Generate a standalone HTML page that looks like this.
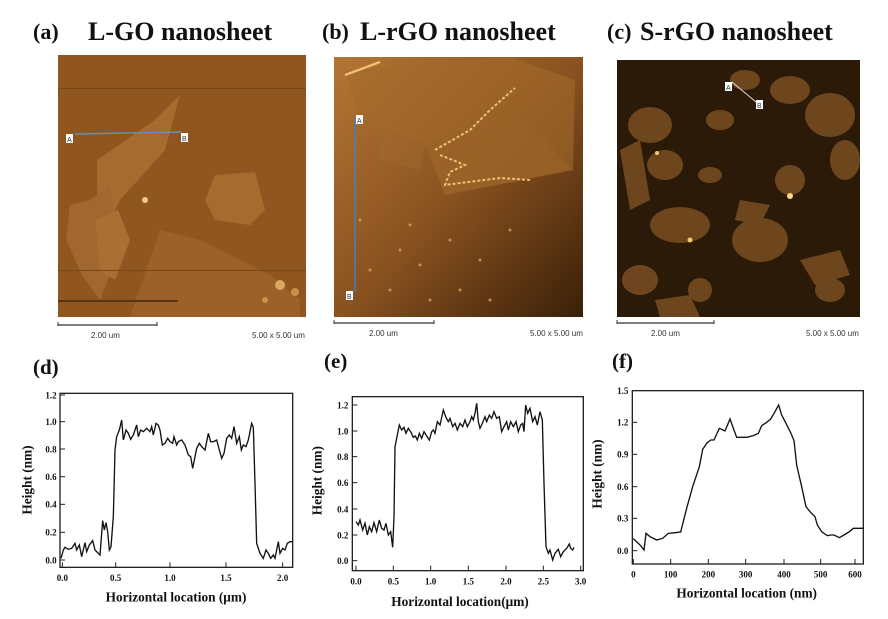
<!DOCTYPE html>
<html><head><meta charset="utf-8"><style>
html,body{margin:0;padding:0;background:#fff;}
svg{display:block;}
.t{font-family:"Liberation Serif",serif;font-weight:bold;fill:#111;}
.s{font-family:"Liberation Sans",sans-serif;fill:#333;}
</style></head><body>
<svg width="888" height="619" viewBox="0 0 888 619" xmlns="http://www.w3.org/2000/svg">
<defs>
<linearGradient id="gb" x1="0" y1="0" x2="1" y2="1">
<stop offset="0" stop-color="#b47634"/><stop offset="0.5" stop-color="#8a5220"/><stop offset="1" stop-color="#3a2008"/>
</linearGradient>
</defs>
<!-- Titles -->
<text class="t" x="33" y="39" font-size="22">(a)</text>
<text class="t" x="88" y="40" font-size="26">L-GO nanosheet</text>
<text class="t" x="322" y="39" font-size="22">(b)</text>
<text class="t" x="360" y="40" font-size="26">L-rGO nanosheet</text>
<text class="t" x="607" y="39" font-size="22">(c)</text>
<text class="t" x="640" y="40" font-size="26">S-rGO nanosheet</text>

<!-- Image a -->
<g>
<rect x="58" y="55" width="248" height="262" fill="#8f561f"/>
<polygon points="155,120 180,95 165,150 120,200 98,245 97,160" fill="#a56c30"/>
<polygon points="90,200 110,185 118,230 110,275 100,300 82,275 66,240 70,205" fill="#a06730"/>
<polygon points="215,175 255,172 265,210 250,225 215,220 205,200" fill="#a56c30"/>
<polygon points="160,230 200,240 270,275 300,300 300,317 130,317" fill="#9b6129"/>
<polygon points="95,220 118,210 130,240 115,280 100,270" fill="#a96f33"/>
<rect x="58" y="300" width="120" height="2" fill="#5a3410"/>
<rect x="58" y="88" width="248" height="1" fill="#7a4615"/>
<rect x="58" y="270" width="248" height="1" fill="#7a4615"/>
<circle cx="145" cy="200" r="3" fill="#f3d080"/>
<circle cx="280" cy="285" r="5" fill="#d9a85a"/>
<circle cx="295" cy="292" r="4" fill="#c99048"/>
<circle cx="265" cy="300" r="3" fill="#c99048"/>
<line x1="75" y1="134" x2="181" y2="132" stroke="#6a8fb5" stroke-width="1.5"/>
<rect x="66" y="134" width="7" height="9" fill="#fff"/><text class="s" x="67" y="142" font-size="7">A</text>
<rect x="181" y="133" width="7" height="9" fill="#fff"/><text class="s" x="182" y="141" font-size="7">B</text>
<line x1="58" y1="325" x2="157" y2="325" stroke="#333" stroke-width="1.2"/>
<line x1="58" y1="322" x2="58" y2="326" stroke="#333"/><line x1="157" y1="322" x2="157" y2="326" stroke="#333"/>
<text class="s" x="91" y="338" font-size="8">2.00 um</text>
<text class="s" x="252" y="338" font-size="8">5.00 x 5.00 um</text>
</g>

<!-- Image b -->
<g>
<rect x="334" y="57" width="249" height="260" fill="url(#gb)"/>
<polygon points="345,70 510,57 575,80 573,170 445,195 425,145 360,120" fill="#a46a2c" opacity="0.6"/>
<polygon points="425,145 515,110 573,170 445,195" fill="#9a6228" opacity="0.6"/>
<polygon points="380,130 425,145 420,170 380,160" fill="#a06a30" opacity="0.5"/>
<polyline points="345,75 380,62" stroke="#f0c070" stroke-width="2.5" fill="none"/>
<polyline points="435,150 470,130 490,110 515,88" stroke="#f0c070" stroke-width="2" fill="none" stroke-dasharray="3,2"/>
<polyline points="440,155 465,165 450,172 445,185 500,178 530,180" stroke="#f0c070" stroke-width="2" fill="none" stroke-dasharray="3,2"/>
<g fill="#d8a258" opacity="0.8">
<circle cx="400" cy="250" r="1.5"/><circle cx="420" cy="265" r="1.5"/><circle cx="450" cy="240" r="1.5"/><circle cx="480" cy="260" r="1.5"/><circle cx="390" cy="290" r="1.5"/><circle cx="460" cy="290" r="1.5"/><circle cx="510" cy="230" r="1.5"/><circle cx="430" cy="300" r="1.5"/><circle cx="370" cy="270" r="1.5"/><circle cx="490" cy="300" r="1.5"/><circle cx="360" cy="220" r="1.5"/><circle cx="410" cy="225" r="1.5"/>
</g>
<line x1="355" y1="118" x2="355" y2="292" stroke="#3d84c8" stroke-width="1.5"/>
<rect x="356" y="115" width="7" height="9" fill="#fff"/><text class="s" x="357" y="123" font-size="7">A</text>
<rect x="346" y="291" width="7" height="9" fill="#fff"/><text class="s" x="347" y="299" font-size="7">B</text>
<line x1="334" y1="323" x2="434" y2="323" stroke="#333" stroke-width="1.2"/>
<line x1="334" y1="320" x2="334" y2="324" stroke="#333"/><line x1="434" y1="320" x2="434" y2="324" stroke="#333"/>
<text class="s" x="369" y="336" font-size="8">2.00 um</text>
<text class="s" x="530" y="336" font-size="8">5.00 x 5.00 um</text>
</g>

<!-- Image c -->
<g>
<rect x="617" y="60" width="243" height="257" fill="#2c1a09"/>
<g fill="#7a4e22" opacity="0.85">
<ellipse cx="650" cy="125" rx="22" ry="18"/><ellipse cx="665" cy="165" rx="18" ry="15"/><ellipse cx="720" cy="120" rx="14" ry="10"/><ellipse cx="790" cy="90" rx="20" ry="14"/><ellipse cx="830" cy="115" rx="25" ry="22"/><ellipse cx="845" cy="160" rx="15" ry="20"/><ellipse cx="680" cy="225" rx="30" ry="18"/><ellipse cx="760" cy="240" rx="28" ry="22"/><ellipse cx="790" cy="180" rx="15" ry="15"/><ellipse cx="640" cy="280" rx="18" ry="15"/><ellipse cx="700" cy="290" rx="12" ry="12"/><ellipse cx="830" cy="290" rx="15" ry="12"/><ellipse cx="745" cy="80" rx="15" ry="10"/><ellipse cx="710" cy="175" rx="12" ry="8"/>
<polygon points="620,150 640,140 650,200 630,210"/><polygon points="740,200 770,205 760,225 735,220"/><polygon points="800,260 840,250 850,275 815,285"/><polygon points="655,300 690,295 700,317 660,317"/>
</g>
<circle cx="790" cy="196" r="3" fill="#f8d890"/><circle cx="690" cy="240" r="2.5" fill="#f0c870"/><circle cx="657" cy="153" r="2" fill="#f0c870"/>
<line x1="732" y1="82" x2="756" y2="102" stroke="#ddd" stroke-width="1"/>
<rect x="725" y="82" width="7" height="9" fill="#fff"/><text class="s" x="726" y="90" font-size="7">A</text>
<rect x="756" y="100" width="7" height="9" fill="#fff"/><text class="s" x="757" y="108" font-size="7">B</text>
<line x1="617" y1="323" x2="714" y2="323" stroke="#333" stroke-width="1.2"/>
<line x1="617" y1="320" x2="617" y2="324" stroke="#333"/><line x1="714" y1="320" x2="714" y2="324" stroke="#333"/>
<text class="s" x="651" y="336" font-size="8">2.00 um</text>
<text class="s" x="806" y="336" font-size="8">5.00 x 5.00 um</text>
</g>

<!-- Bottom titles -->
<text class="t" x="33" y="374" font-size="21">(d)</text>
<text class="t" x="324" y="368" font-size="21">(e)</text>
<text class="t" x="612" y="368" font-size="21">(f)</text>

<!-- Plot d -->
<g transform="translate(0,350) scale(0.33333)">
<rect x="180" y="130" width="698" height="522" fill="none" stroke="#222" stroke-width="4"/>
<g stroke="#222" stroke-width="3">
<line x1="180" y1="630" x2="195" y2="630"/><line x1="180" y1="547" x2="195" y2="547"/><line x1="180" y1="463" x2="195" y2="463"/><line x1="180" y1="380" x2="195" y2="380"/><line x1="180" y1="297" x2="195" y2="297"/><line x1="180" y1="215" x2="195" y2="215"/><line x1="180" y1="135" x2="195" y2="135"/>
<line x1="187" y1="652" x2="187" y2="637"/><line x1="347" y1="652" x2="347" y2="637"/><line x1="510" y1="652" x2="510" y2="637"/><line x1="678" y1="652" x2="678" y2="637"/><line x1="848" y1="652" x2="848" y2="637"/>
</g>
<g class="t" font-size="27" text-anchor="end">
<text x="170" y="640">0.0</text><text x="170" y="557">0.2</text><text x="170" y="473">0.4</text><text x="170" y="390">0.6</text><text x="170" y="307">0.8</text><text x="170" y="225">1.0</text><text x="170" y="145">1.2</text>
</g>
<g class="t" font-size="27" text-anchor="middle">
<text x="187" y="693">0.0</text><text x="347" y="693">0.5</text><text x="510" y="693">1.0</text><text x="678" y="693">1.5</text><text x="848" y="693">2.0</text>
</g>
<text class="t" x="528" y="755" font-size="40" text-anchor="middle">Horizontal location (μm)</text>
<text class="t" font-size="40" text-anchor="middle" transform="translate(95,390) rotate(-90)">Height (nm)</text>
<polyline fill="none" stroke="#111" stroke-width="4" points="183,625 190,600 195,592 205,598 215,595 225,580 230,600 238,585 245,620 255,578 260,605 268,585 278,572 285,600 300,615 308,512 313,540 318,518 323,545 328,600 333,590 340,500 345,300 350,260 358,240 365,210 370,270 378,240 385,250 392,268 400,255 410,225 415,260 422,240 430,245 440,235 450,245 455,230 460,255 468,220 475,225 480,240 487,285 495,280 503,265 510,275 518,280 522,260 530,285 535,275 545,270 555,285 560,300 565,315 572,320 578,355 585,320 590,295 598,280 605,290 615,300 625,250 632,275 640,275 650,270 658,300 665,325 672,310 680,265 688,255 695,265 702,230 710,280 718,260 724,300 730,285 738,290 745,270 755,220 760,232 765,400 770,580 780,610 790,625 798,600 805,610 812,625 820,615 825,625 835,575 840,610 848,595 855,600 862,580 870,575 878,575"/>
</g>

<!-- Plot e -->
<g transform="translate(300,350) scale(0.33333)">
<rect x="157" y="140" width="693" height="522" fill="none" stroke="#222" stroke-width="4"/>
<g stroke="#222" stroke-width="3">
<line x1="157" y1="632" x2="172" y2="632"/><line x1="157" y1="555" x2="172" y2="555"/><line x1="157" y1="477" x2="172" y2="477"/><line x1="157" y1="398" x2="172" y2="398"/><line x1="157" y1="320" x2="172" y2="320"/><line x1="157" y1="243" x2="172" y2="243"/><line x1="157" y1="165" x2="172" y2="165"/>
<line x1="168" y1="662" x2="168" y2="647"/><line x1="280" y1="662" x2="280" y2="647"/><line x1="392" y1="662" x2="392" y2="647"/><line x1="505" y1="662" x2="505" y2="647"/><line x1="618" y1="662" x2="618" y2="647"/><line x1="730" y1="662" x2="730" y2="647"/><line x1="842" y1="662" x2="842" y2="647"/>
</g>
<g class="t" font-size="27" text-anchor="end">
<text x="145" y="642">0.0</text><text x="145" y="565">0.2</text><text x="145" y="487">0.4</text><text x="145" y="408">0.6</text><text x="145" y="330">0.8</text><text x="145" y="253">1.0</text><text x="145" y="175">1.2</text>
</g>
<g class="t" font-size="27" text-anchor="middle">
<text x="168" y="703">0.0</text><text x="280" y="703">0.5</text><text x="392" y="703">1.0</text><text x="505" y="703">1.5</text><text x="618" y="703">2.0</text><text x="730" y="703">2.5</text><text x="842" y="703">3.0</text>
</g>
<text class="t" x="480" y="768" font-size="40" text-anchor="middle">Horizontal location(μm)</text>
<text class="t" font-size="40" text-anchor="middle" transform="translate(65,392) rotate(-90)">Height (nm)</text>
<polyline fill="none" stroke="#111" stroke-width="4" points="168,515 175,525 180,510 188,540 195,520 202,555 208,530 215,545 222,518 230,545 238,510 245,535 252,540 258,520 265,555 272,545 278,592 282,500 285,290 292,255 298,225 305,240 312,232 318,250 325,235 332,245 340,262 346,258 352,270 358,250 365,265 372,245 380,258 388,270 395,245 400,240 405,250 412,215 420,225 430,180 437,200 445,215 450,205 458,230 465,220 472,240 480,220 488,230 495,210 502,230 510,215 515,200 520,210 525,190 530,160 535,215 540,235 548,218 555,200 560,215 568,195 575,205 582,185 590,205 598,200 605,245 612,230 620,215 625,240 632,215 640,230 648,215 655,245 662,225 668,220 672,245 677,165 683,190 690,175 698,215 705,200 712,225 720,185 727,210 732,400 738,590 745,610 750,600 758,630 765,610 775,598 782,620 790,605 800,595 808,582 812,595 818,600 822,592"/>
</g>

<!-- Plot f -->
<g transform="translate(580,350) scale(0.33333)">
<rect x="157" y="122" width="693" height="520" fill="none" stroke="#222" stroke-width="4"/>
<g stroke="#222" stroke-width="3">
<line x1="157" y1="602" x2="172" y2="602"/><line x1="157" y1="505" x2="172" y2="505"/><line x1="157" y1="410" x2="172" y2="410"/><line x1="157" y1="313" x2="172" y2="313"/><line x1="157" y1="217" x2="172" y2="217"/>
<line x1="160" y1="642" x2="160" y2="627"/><line x1="272" y1="642" x2="272" y2="627"/><line x1="385" y1="642" x2="385" y2="627"/><line x1="497" y1="642" x2="497" y2="627"/><line x1="612" y1="642" x2="612" y2="627"/><line x1="722" y1="642" x2="722" y2="627"/><line x1="825" y1="642" x2="825" y2="627"/>
</g>
<g class="t" font-size="27" text-anchor="end">
<text x="145" y="612">0.0</text><text x="145" y="515">0.3</text><text x="145" y="420">0.6</text><text x="145" y="323">0.9</text><text x="145" y="227">1.2</text><text x="145" y="132">1.5</text>
</g>
<g class="t" font-size="27" text-anchor="middle">
<text x="160" y="683">0</text><text x="272" y="683">100</text><text x="385" y="683">200</text><text x="497" y="683">300</text><text x="612" y="683">400</text><text x="722" y="683">500</text><text x="825" y="683">600</text>
</g>
<text class="t" x="500" y="742" font-size="40" text-anchor="middle">Horizontal location (nm)</text>
<text class="t" font-size="40" text-anchor="middle" transform="translate(65,372) rotate(-90)">Height (nm)</text>
<polyline fill="none" stroke="#111" stroke-width="4" points="160,566 180,585 192,600 198,550 210,560 230,570 248,565 265,550 285,548 302,546 320,475 338,410 358,350 368,298 380,280 392,270 402,270 418,235 435,243 450,207 470,262 480,262 500,262 520,257 535,250 545,227 560,217 572,207 585,185 596,165 605,195 618,220 632,248 642,272 650,345 665,410 678,470 690,485 705,500 712,525 725,545 742,557 752,555 762,555 778,563 792,555 808,545 820,535 838,535 850,535"/>
</g>
</svg>
</body></html>
